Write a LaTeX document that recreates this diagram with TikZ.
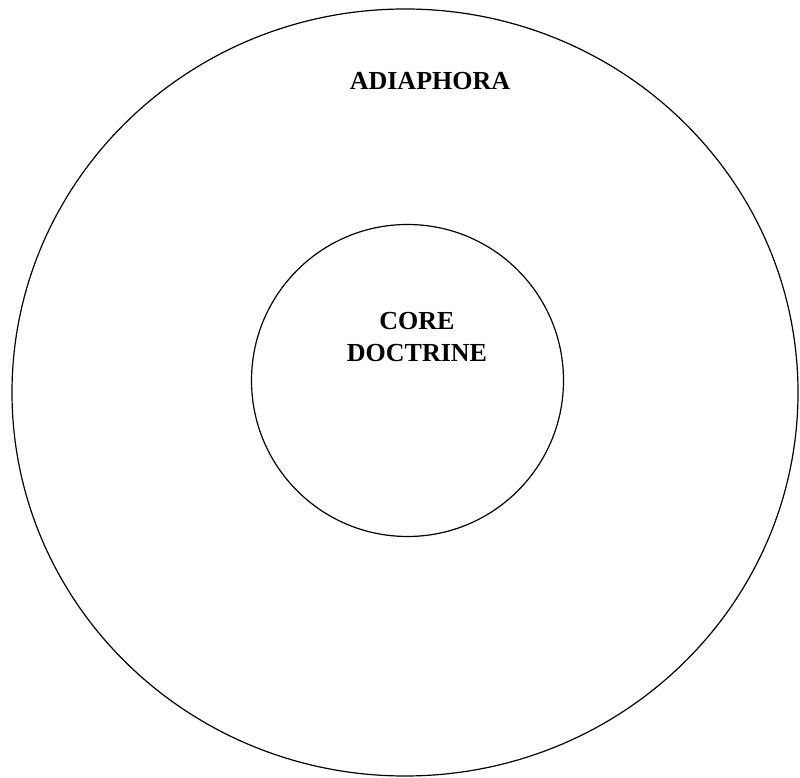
\documentclass[tikz,border=0pt]{standalone}
\usepackage{fontspec}
\setmainfont{Liberation Serif}
\usetikzlibrary{shapes.geometric}
\begin{document}
\begin{tikzpicture}[x=1pt,y=1pt,
  ring/.style={draw=black,line width=1.2pt},
  lbl/.style={font=\fontsize{26}{32}\selectfont\bfseries,align=center,inner sep=0pt}]
\useasboundingbox (0,0) rectangle (800,778);
\node[ring,ellipse,minimum width=786,minimum height=767,inner sep=0pt] (outer) at (405,385.5) {};
\node[ring,circle,minimum size=312,inner sep=0pt] (inner) at (407.5,397.5) {};
\node[lbl,anchor=base] (adia) at (430,688) {ADIAPHORA};
\node[lbl,anchor=base] (core) at (417,416) {CORE\\DOCTRINE};
\end{tikzpicture}
\end{document}
